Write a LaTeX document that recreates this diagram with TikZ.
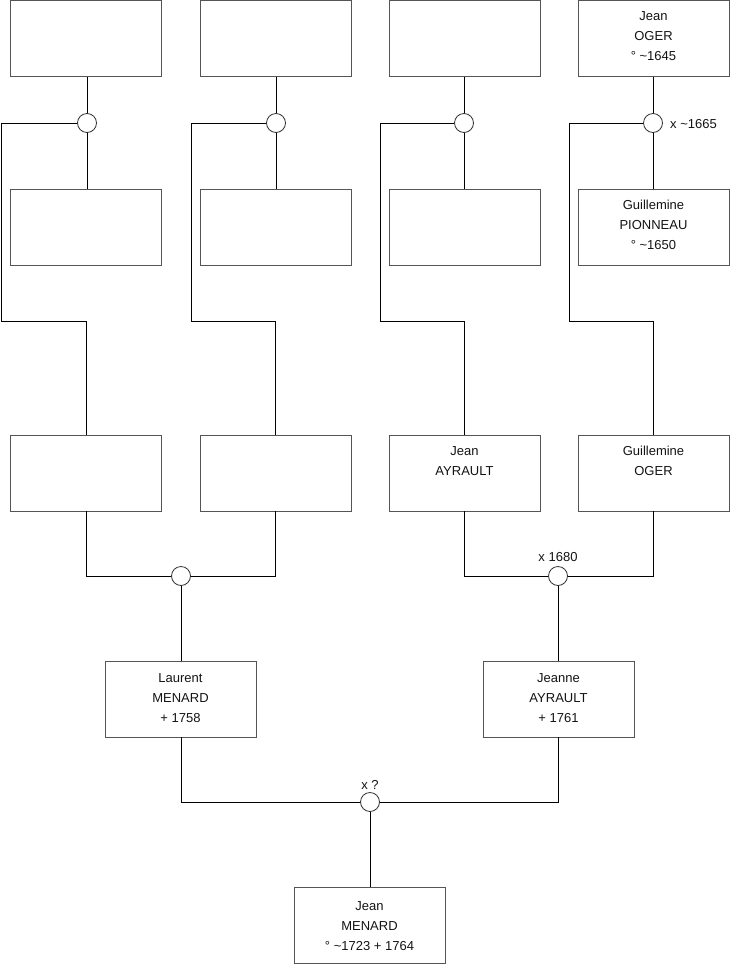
\documentclass[tikz,border=0pt]{standalone}
\usepackage{fontspec}
\setmainfont{Liberation Sans}
\begin{document}
\begin{tikzpicture}[x=1pt,y=-1pt,
  box/.style={draw={rgb,255:red,85;green,85;blue,85}, line width=0.9pt, minimum width=151pt, minimum height=76pt, inner sep=0pt, fill=white},
  union/.style={circle, draw={rgb,255:red,50;green,50;blue,50}, line width=0.8pt, minimum size=19pt, inner sep=0pt, fill=white},
  txt/.style={font=\fontsize{13}{20}\selectfont, align=center, inner sep=0pt, anchor=north, text={rgb,255:red,20;green,20;blue,20}},
  lbl/.style={font=\fontsize{13}{15}\selectfont, inner sep=0pt, text={rgb,255:red,20;green,20;blue,20}},
  link/.style={draw=black, line width=0.8pt}]
\fill[white] (0,0) rectangle (740,975);
\useasboundingbox (0,0) rectangle (740,975);

% row 1 boxes
\node[box] (a1) at (86,38.5) {};
\node[box] (a2) at (275.5,38.5) {};
\node[box] (a3) at (464.5,38.5) {};
\node[box] (a4) at (653.5,38.5) {};
% row 2 boxes
\node[box] (b1) at (86,227) {};
\node[box] (b2) at (275.5,227) {};
\node[box] (b3) at (464.5,227) {};
\node[box] (b4) at (653.5,227) {};
% row 3 boxes
\node[box] (c1) at (86,473) {};
\node[box] (c2) at (275.5,473) {};
\node[box] (c3) at (464.5,473) {};
\node[box] (c4) at (653.5,473) {};
% row 4 boxes
\node[box] (d1) at (180.5,699) {};
\node[box] (d2) at (558.5,699) {};
% bottom box
\node[box] (e1) at (369.5,925) {};

% unions
\node[union] (u1) at (87,123) {};
\node[union] (u2) at (276,123) {};
\node[union] (u3) at (464,123) {};
\node[union] (u4) at (653,123) {};
\node[union] (v1) at (181,576) {};
\node[union] (v2) at (558,576) {};
\node[union] (w1) at (370,802) {};

% corner coordinates
\coordinate (k1) at (1,321);
\coordinate (k2) at (191,321);
\coordinate (k3) at (380,321);
\coordinate (k4) at (569,321);

% links row1-row2
\foreach \i in {1,2,3,4}{
  \draw[link] (u\i.north) -- (u\i.north |- a\i.south);
  \draw[link] (u\i.south) -- (u\i.south |- b\i.north);
  \draw[link] (u\i.west) -| (k\i) -| (c\i.north);
}
% row3 to unions
\draw[link] (c1.south) |- (v1.west);
\draw[link] (c2.south) |- (v1.east);
\draw[link] (c3.south) |- (v2.west);
\draw[link] (c4.south) |- (v2.east);
\draw[link] (v1.south) -- (v1.south |- d1.north);
\draw[link] (v2.south) -- (v2.south |- d2.north);
% row4 to bottom
\draw[link] (d1.south -| v1) |- (w1.west);
\draw[link] (d2.south -| v2) |- (w1.east);
\draw[link] (w1.south) -- (w1.south |- e1.north);

% texts
\node[txt] (t1) at ([yshift=-11.5]a4.north) {Jean\\OGER\\° \textasciitilde1645};
\node[txt] (t2) at ([yshift=-11.5]b4.north) {Guillemine\\PIONNEAU\\° \textasciitilde1650};
\node[txt] (t3) at ([yshift=-11.5]c3.north) {Jean\\AYRAULT};
\node[txt] (t4) at ([yshift=-11.5]c4.north) {Guillemine\\OGER};
\node[txt] (t5) at ([yshift=-12.5]d1.north) {Laurent\\MENARD\\+ 1758};
\node[txt] (t6) at ([yshift=-12.5]d2.north) {Jeanne\\AYRAULT\\+ 1761};
\node[txt] (t7) at ([yshift=-14.5]e1.north) {Jean\\MENARD\\° \textasciitilde1723 + 1764};

% union labels
\node[lbl, anchor=west] (l1) at (670,124) {x \textasciitilde1665};
\node[lbl] (l2) at (558,557) {x 1680};
\node[lbl] (l3) at (370,785) {x ?};
\end{tikzpicture}
\end{document}
